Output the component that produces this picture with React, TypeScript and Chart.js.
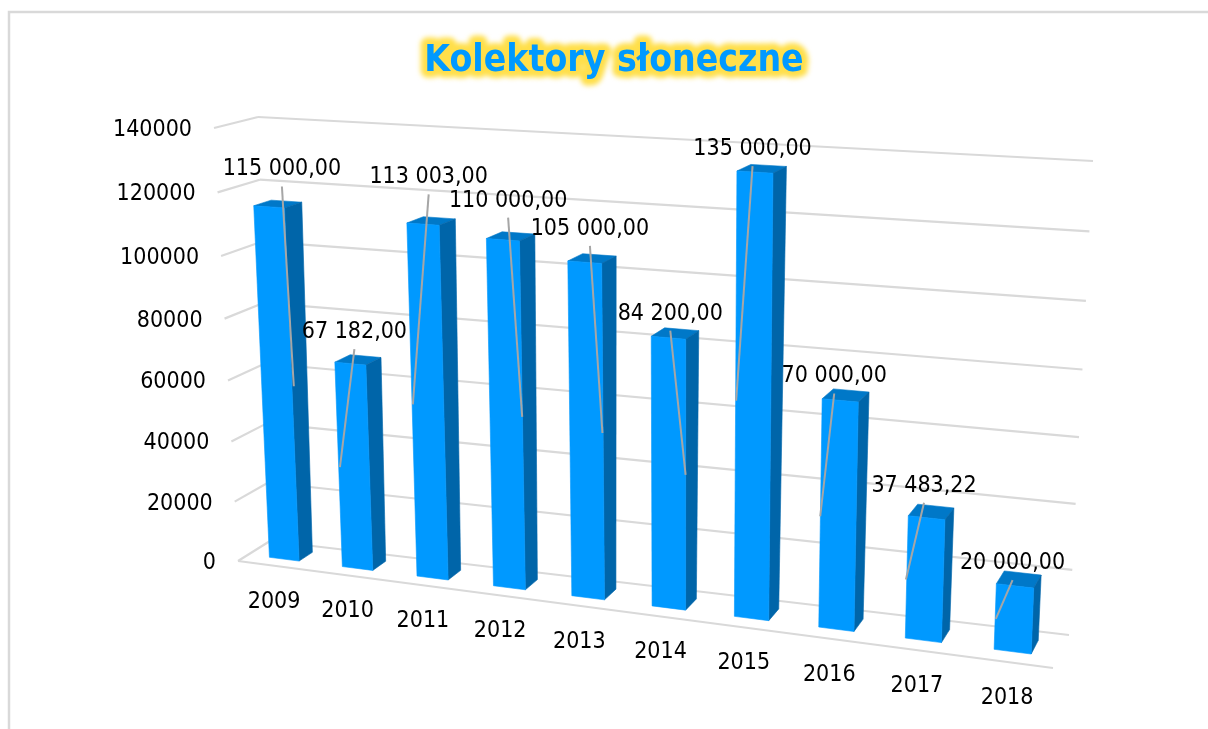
import React, { useEffect, useRef } from "react";
import { Chart, registerables } from "chart.js";

Chart.register(...registerables);

const years = ["2009", "2010", "2011", "2012", "2013", "2014", "2015", "2016", "2017", "2018"];
const values = [115000, 67182, 113003, 110000, 105000, 84200, 135000, 70000, 37483.22, 20000];
const valueLabels = ["115 000,00", "67 182,00", "113 003,00", "110 000,00", "105 000,00", "84 200,00", "135 000,00", "70 000,00", "37 483,22", "20 000,00"];

// Manual label placement as in the source: offset from each bar's top / mid centre
const labelOffsets = [[2.5, -34], [-5, -27], [-4, -43], [-4, -35], [-3.5, -29], [-6, -19], [-10.5, -19], [-12.5, -18], [-8, -25], [-7, -15]];
const leaderEndOffsets = [17, -14, -15, 16, 16, 17, -17, -18, -19, -18];

const FONT = '"DejaVu Sans Condensed", "DejaVu Sans", sans-serif';
type Pt = [number, number];

function quadMap(q: Pt[]) {
  // unit square -> quad (u,v): (0,0)=q0 (1,0)=q1 (1,1)=q2 (0,1)=q3
  const [p0, p1, p2, p3] = q;
  const dx1 = p1[0] - p2[0], dx2 = p3[0] - p2[0], sx = p0[0] - p1[0] + p2[0] - p3[0];
  const dy1 = p1[1] - p2[1], dy2 = p3[1] - p2[1], sy = p0[1] - p1[1] + p2[1] - p3[1];
  const den = dx1 * dy2 - dx2 * dy1;
  const g = (sx * dy2 - dx2 * sy) / den;
  const h = (dx1 * sy - sx * dy1) / den;
  const a = p1[0] - p0[0] + g * p1[0], b = p3[0] - p0[0] + h * p3[0], c = p0[0];
  const d = p1[1] - p0[1] + g * p1[1], e = p3[1] - p0[1] + h * p3[1], f = p0[1];
  return (u: number, v: number): Pt => {
    const w = g * u + h * v + 1;
    return [(a * u + b * v + c) / w, (d * u + e * v + f) / w];
  };
}

// Projection frame of the 3D box (front plane and back wall)
const frontPlane = quadMap([[238, 561], [1053, 668], [1071, 179], [214, 128]]);
const backPlane = quadMap([[270, 541], [1069, 635], [1093, 161], [258, 117]]);
const project = (u: number, v: number, z: number): Pt => {
  const a = frontPlane(u, v), b = backPlane(u, v);
  return [a[0] + (b[0] - a[0]) * z, a[1] + (b[1] - a[1]) * z];
};
const BAR_Z_FRONT = 0.32;
const BAR_Z_BACK = 0.74;
const LABEL_Z = 0.57;

function poly(ctx: CanvasRenderingContext2D, pts: Pt[], fill: string) {
  ctx.beginPath();
  pts.forEach((p, i) => (i ? ctx.lineTo(p[0], p[1]) : ctx.moveTo(p[0], p[1])));
  ctx.closePath();
  ctx.fillStyle = fill;
  ctx.fill();
  ctx.strokeStyle = fill;
  ctx.lineWidth = 0.6;
  ctx.stroke();
}

function seg(ctx: CanvasRenderingContext2D, a: Pt, b: Pt, color: string, width: number) {
  ctx.beginPath();
  ctx.moveTo(a[0], a[1]);
  ctx.lineTo(b[0], b[1]);
  ctx.strokeStyle = color;
  ctx.lineWidth = width;
  ctx.stroke();
}

const perspectivePlugin = {
  id: "perspective",
  beforeDraw(chart: any) {
    const ctx: CanvasRenderingContext2D = chart.ctx;
    ctx.save();
    ctx.strokeStyle = "#D9D9D9";
    ctx.lineWidth = 2.5;
    ctx.strokeRect(9, 12, 1300, 900);
    const t = chart.titleBlock;
    const text = chart.options.plugins.title.text;
    const font = chart.options.plugins.title.font;
    ctx.font = `bold ${font.size}px ${font.family}`;
    ctx.textAlign = "center";
    ctx.textBaseline = "middle";
    const cx = (t.left + t.right) / 2;
    const cy = t.top + t.height / 2 + (t.options.padding?.top ?? 0) / 2 - (t.options.padding?.bottom ?? 0) / 2;
    ctx.lineJoin = "round";
    (ctx as any).filter = "blur(2.5px)";
    ctx.strokeStyle = "#FFDF4A";
    ctx.lineWidth = 13;
    ctx.strokeText(text, cx, cy);
    ctx.restore();
  },
  beforeDatasetDraw(chart: any, args: any) {
    const ctx: CanvasRenderingContext2D = chart.ctx;
    const { left, bottom, width, height } = chart.chartArea;
    const U = (x: number) => (x - left) / width;
    const V = (y: number) => (bottom - y) / height;
    const yScale = chart.scales.y;
    const xScale = chart.scales.x;
    ctx.save();

    // gridlines: left wall and back wall
    yScale.ticks.forEach((tick: any) => {
      const v = V(yScale.getPixelForValue(tick.value));
      const corner = project(0, v, 1);
      seg(ctx, project(0, v, 0), corner, "#D9D9D9", 2.2);
      seg(ctx, corner, project(1, v, 1), "#D9D9D9", 2.2);
      const o = project(0, v, 0);
      ctx.fillStyle = "#000";
      ctx.font = `23px ${FONT}`;
      ctx.textAlign = "right";
      ctx.textBaseline = "middle";
      ctx.fillText(String(tick.value), o[0] - 22, o[1] + 2);
    });
    seg(ctx, project(0, 0, 0), project(1, 0, 0), "#D9D9D9", 2.2);

    // category labels along the front edge
    xScale.ticks.forEach((_: any, i: number) => {
      const p = project(U(xScale.getPixelForTick(i)), 0, 0);
      ctx.fillStyle = "#000";
      ctx.font = `23px ${FONT}`;
      ctx.textAlign = "center";
      ctx.textBaseline = "middle";
      ctx.fillText(years[i], p[0], p[1] + 36);
    });

    // bars as boxes
    const els = chart.getDatasetMeta(args.index).data;
    els.forEach((el: any) => {
      const { x, y, base, width: w } = el.getProps(["x", "y", "base", "width"], true);
      const u0 = U(x - w / 2), u1 = U(x + w / 2), vt = V(y), vb = V(base);
      poly(ctx, [project(u0, vt, BAR_Z_FRONT), project(u1, vt, BAR_Z_FRONT), project(u1, vt, BAR_Z_BACK), project(u0, vt, BAR_Z_BACK)], "#0078C8");
      poly(ctx, [project(u1, vb, BAR_Z_FRONT), project(u1, vb, BAR_Z_BACK), project(u1, vt, BAR_Z_BACK), project(u1, vt, BAR_Z_FRONT)], "#0065A9");
      poly(ctx, [project(u0, vb, BAR_Z_FRONT), project(u1, vb, BAR_Z_FRONT), project(u1, vt, BAR_Z_FRONT), project(u0, vt, BAR_Z_FRONT)], "#0099FF");
    });

    // value labels with leader lines
    els.forEach((el: any, i: number) => {
      const { x, y, base } = el.getProps(["x", "y", "base"], true);
      const u = U(x), vt = V(y), vb = V(base);
      const top = project(u, vt, LABEL_Z);
      const mid = project(u, (vt + vb) / 2, BAR_Z_FRONT);
      const lx = top[0] + labelOffsets[i][0], ly = top[1] + labelOffsets[i][1];
      seg(ctx, [lx, ly + 17], [mid[0] + leaderEndOffsets[i], mid[1]], "#A6A6A6", 2);
      ctx.fillStyle = "#000";
      ctx.font = `23px ${FONT}`;
      ctx.textAlign = "center";
      ctx.textBaseline = "middle";
      ctx.fillText(valueLabels[i], lx, ly);
    });
    ctx.restore();
    return false;
  },
};

export default function App() {
  const ref = useRef<HTMLCanvasElement>(null);
  useEffect(() => {
    const chart = new Chart(ref.current!, {
      type: "bar",
      data: {
        labels: years,
        datasets: [{ label: "Kolektory słoneczne", data: values, backgroundColor: "#0099FF", barPercentage: 0.41, categoryPercentage: 1 }],
      },
      options: {
        responsive: false,
        animation: false,
        layout: { padding: { left: 20, right: 0, top: 0, bottom: 0 } },
        plugins: {
          legend: { display: false },
          tooltip: { enabled: false },
          title: {
            display: true,
            text: "Kolektory słoneczne",
            color: "#0099FF",
            font: { family: FONT, size: 37, weight: "bold" },
            padding: { top: 39, bottom: 20 },
          },
        },
        scales: {
          x: { grid: { display: false }, border: { display: false }, ticks: { display: false } },
          y: { min: 0, max: 140000, grid: { display: false }, border: { display: false }, ticks: { display: false, stepSize: 20000 } },
        },
      },
      plugins: [perspectivePlugin],
    } as any);
    return () => chart.destroy();
  }, []);
  return (
    <div style={{ position: "fixed", left: 0, top: 0, width: 1208, height: 729, background: "#fff" }}>
      <canvas ref={ref} width={1208} height={729} style={{ display: "block" }} />
    </div>
  );
}
